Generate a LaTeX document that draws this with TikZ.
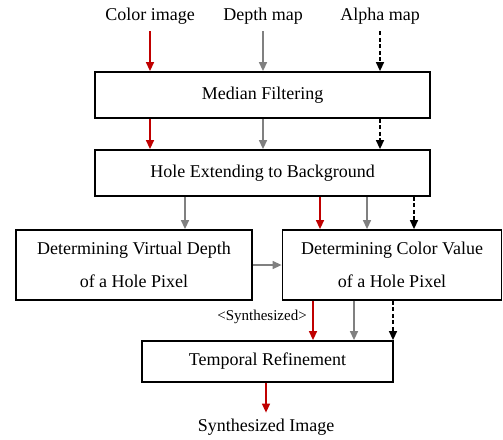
\documentclass[tikz,border=0pt]{standalone}
\usepackage{fontspec}
\setmainfont{Liberation Serif}
\usetikzlibrary{arrows.meta}
\definecolor{darkred}{RGB}{192,0,0}
\definecolor{midgray}{RGB}{128,128,128}
\begin{document}
\begin{tikzpicture}[x=1pt,y=-1pt,
  box/.style={draw,line width=1.8pt,inner sep=0pt,align=center,
    font=\fontsize{18}{33}\selectfont},
  lbl/.style={inner sep=0pt,font=\fontsize{18}{22}\selectfont},
  arr/.style={line width=1.4pt,-{Triangle[length=9pt,width=8pt]}},
  redarr/.style={arr,darkred},
  grayarr/.style={arr,midgray},
  dasharr/.style={arr,black,dash pattern=on 4pt off 2.5pt}]
\useasboundingbox (0,0) rectangle (503,439);

% inputs
\node[lbl] (cimg) at (150,16) {Color image};
\node[lbl] (dmap) at (263,16) {Depth map};
\node[lbl] (amap) at (380,16) {Alpha map};

% processing blocks
\node[box,minimum width=335pt,minimum height=46pt] (mf) at (262.5,95) {Median Filtering};
\node[box,minimum width=335pt,minimum height=46pt] (he) at (262.5,173) {Hole Extending to Background};
\node[box,minimum width=236pt,minimum height=70pt] (vd) at (134,265) {Determining Virtual Depth\\of a Hole Pixel};
\node[box,minimum width=219pt,minimum height=70pt] (cv) at (392,265) {Determining Color Value\\of a Hole Pixel};
\node[box,minimum width=251pt,minimum height=41pt] (tr) at (267.5,361.5) {Temporal Refinement};
\node[lbl] (out) at (266,427) {Synthesized Image};
\node[inner sep=0pt,font=\fontsize{15}{18}\selectfont] (syn) at (262,317) {<Synthesized>};

% column positions of the connectors
\coordinate (xd) at (185,0);
\coordinate (xc1) at (320,0);
\coordinate (xc2) at (367,0);
\coordinate (xc3) at (414,0);
\coordinate (xt1) at (313,0);
\coordinate (xt2) at (354,0);
\coordinate (xt3) at (393,0);

% inputs into median filtering
\draw[redarr]  ([yshift=-7pt]cimg.south) -- (mf.north -| cimg);
\draw[grayarr] ([yshift=-7pt]dmap.south) -- (mf.north -| dmap);
\draw[dasharr] ([yshift=-7pt]amap.south) -- (mf.north -| amap);

% median filtering into hole extending
\draw[redarr]  (mf.south -| cimg) -- (he.north -| cimg);
\draw[grayarr] (mf.south -| dmap) -- (he.north -| dmap);
\draw[dasharr] (mf.south -| amap) -- (he.north -| amap);

% hole extending into the two determining blocks
\draw[grayarr] (he.south -| xd) -- (vd.north -| xd);
\draw[redarr]  (he.south -| xc1) -- (cv.north -| xc1);
\draw[grayarr] (he.south -| xc2) -- (cv.north -| xc2);
\draw[dasharr] (he.south -| xc3) -- (cv.north -| xc3);

% virtual depth into color value
\draw[grayarr] (vd.east) -- (cv.west);

% color value into temporal refinement
\draw[redarr]  (cv.south -| xt1) -- (tr.north -| xt1);
\draw[grayarr] (cv.south -| xt2) -- (tr.north -| xt2);
\draw[dasharr] (cv.south -| xt3) -- (tr.north -| xt3);

% output
\draw[redarr] (tr.south -| out) -- ([yshift=6pt]out.north);
\end{tikzpicture}
\end{document}
